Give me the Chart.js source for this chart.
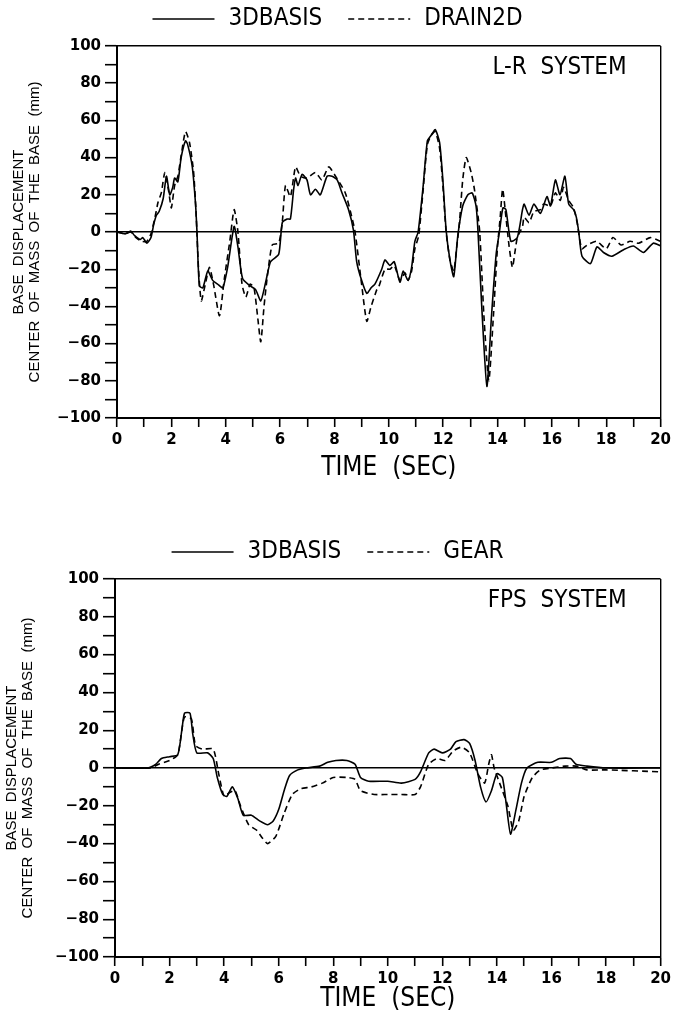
<!DOCTYPE html>
<html>
<head>
<meta charset="utf-8">
<script src="https://cdn.jsdelivr.net/npm/chart.js@4.4.1/dist/chart.umd.min.js"></script>
<style>
  body { margin: 0; background: #fff; }
  .box { position: absolute; left: 0; width: 675px; }
</style>
</head>
<body>
<div class="box" style="top:0;height:510px"><canvas id="lr"></canvas></div>
<div class="box" style="top:510px;height:512px"><canvas id="fps"></canvas></div>
<script>
// L-R system, 3DBASIS vs DRAIN2D
const lrBasisTime = [0,0.3,0.5,0.65,0.85,0.95,1.1,1.25,1.35,1.45,1.55,1.7,1.82,1.94,2.05,2.12,2.24,2.36,2.52,2.6,2.77,2.89,2.94,3.03,3.16,3.34,3.52,3.7,3.89,4.07,4.31,4.45,4.62,4.9,5.1,5.29,5.47,5.65,5.95,6.08,6.26,6.38,6.5,6.57,6.66,6.81,6.99,7.12,7.3,7.48,7.73,7.91,8.1,8.28,8.52,8.7,8.82,9.0,9.19,9.35,9.49,9.74,9.86,10.04,10.2,10.41,10.53,10.71,10.84,10.96,11.08,11.26,11.42,11.56,11.71,11.87,11.99,12.11,12.25,12.39,12.54,12.72,12.91,13.07,13.21,13.28,13.42,13.61,13.78,13.95,14.07,14.2,14.31,14.49,14.73,14.92,14.98,15.16,15.34,15.58,15.82,15.95,16.13,16.3,16.48,16.62,16.8,16.9,16.99,17.11,17.42,17.66,17.9,18.21,18.64,19.0,19.37,19.73,20];
const lrBasis = [0,-1,0.5,-2,-4,-3,-6,-3,4,9,11,18,30,20,24,29,27,40,49,47,35,15,1,-29,-30,-21,-26,-28,-30,-19,3,-8,-25,-29,-31,-37,-27,-16,-12,5,7,7,23,29,25,31,28,20,23,20,30,30,28,21,12,1,-16,-26,-33,-30,-28,-20,-15,-18,-16,-27,-21,-26,-19,-5,0,24,49,52,55,48,28,1,-15,-24,-2,14,20,21,14,1,-40,-83,-45,-12,0,13,12,-5,-3,12,15,9,15,10,19,14,28,20,30,15,12,8,0,-13,-17,-8,-11,-13,-9.5,-7.5,-11,-6,-7.5];

const lrDrainTime = [0,0.3,0.5,0.7,0.9,1.1,1.25,1.4,1.51,1.63,1.76,1.9,2.0,2.12,2.24,2.36,2.52,2.67,2.82,2.91,3.0,3.1,3.25,3.4,3.55,3.77,3.95,4.15,4.31,4.45,4.6,4.74,4.9,5.04,5.17,5.29,5.41,5.53,5.71,5.95,6.08,6.2,6.38,6.57,6.75,6.99,7.3,7.54,7.79,8.04,8.4,8.64,8.76,9.0,9.19,9.35,9.56,9.62,9.86,10.04,10.2,10.41,10.6,10.71,10.84,10.96,11.1,11.26,11.42,11.56,11.71,11.87,11.99,12.11,12.25,12.39,12.5,12.6,12.72,12.85,13.03,13.15,13.34,13.5,13.68,13.85,14.0,14.1,14.19,14.31,14.43,14.55,14.65,14.73,14.92,14.98,15.16,15.34,15.58,15.7,15.95,16.13,16.31,16.43,16.62,16.8,16.93,17.1,17.3,17.65,18.0,18.25,18.55,18.88,19.2,19.62,20];
const lrDrain = [0,-1,0,-3,-5,-5,-1,8,16,21,32,22,13,25,30,41,54,48,32,10,-20,-37,-28,-19,-28,-45,-25,-5,12,0,-28,-35,-28,-30,-45,-59,-40,-24,-7,-6,5,25,19,35,30,29,32,28,35,30,21,8,0,-28,-48,-40,-31,-30,-20,-20,-18,-26,-22,-26,-21,-9,-2,22,47,52,54,45,25,0,-15,-21,-8,5,28,40,32,23,1,-45,-80,-45,-8,8,23,8,-8,-19,-10,-3,3,8,5,11,12,15,14,21,17,24,17,13,5,-9,-7,-5,-9,-3,-7,-5,-6,-3,-5];

// FPS system, 3DBASIS vs GEAR
const fpsBasisTime = [0,1.2,1.5,1.7,2.0,2.3,2.45,2.55,2.75,2.85,3.0,3.4,3.6,3.75,3.95,4.1,4.3,4.5,4.7,5.0,5.3,5.6,5.8,6.0,6.2,6.4,6.7,7.0,7.5,7.8,8.1,8.5,8.8,9.0,9.3,10.0,10.5,11.0,11.2,11.5,11.7,12.0,12.3,12.5,12.8,13.0,13.2,13.4,13.6,13.8,14.0,14.2,14.35,14.5,14.7,14.9,15.1,15.5,16.0,16.3,16.7,16.9,17.3,18,20];
const fpsBasis = [0,0,2,5,6,7,20,29,29,18,8,8,5,-5,-14,-15,-10,-16,-25,-25,-28,-30,-28,-22,-12,-4,-1,0,1,3,4,4,2,-5,-7,-7,-8,-6,-2,8,10,8,10,14,15,13,4,-10,-18,-12,-3,-5,-20,-35,-22,-8,0,3,3,5,5,2,1,0,0];

const fpsGearTime = [0,1.3,1.6,2.0,2.3,2.45,2.55,2.8,2.95,3.2,3.6,3.8,4.0,4.2,4.4,4.6,4.9,5.2,5.4,5.6,5.9,6.2,6.5,6.8,7.2,7.6,8.0,8.5,8.8,9.0,9.5,10.0,10.5,11.0,11.2,11.5,11.8,12.1,12.4,12.7,13.0,13.3,13.55,13.7,13.8,13.9,14.1,14.4,14.6,14.8,15.0,15.3,15.6,16.0,16.5,16.9,17.3,18,20];
const fpsGear = [0,0,2,4,7,20,27,26,12,10,10,-3,-15,-13,-12,-20,-30,-33,-37,-40,-36,-24,-14,-11,-10,-8,-5,-5,-6,-12,-14,-14,-14,-14,-10,2,5,4,9,11,8,-3,-8,2,7,0,-8,-20,-33,-28,-15,-5,-1,0,1,1,-1,-1,-2];

const yTicks = [-100, -80, -60, -40, -20, 0, 20, 40, 60, 80, 100];
const xTicks = [0, 2, 4, 6, 8, 10, 12, 14, 16, 18, 20];

const thinFont = '"Liberation Sans Narrow", "DejaVu Sans Condensed", "Liberation Sans", sans-serif';

function pts(t, v) {
    return t.map((x, i) => ({x: x, y: v[i]}));
}

// draws the line key above the frame and the system name inside it
const keyPlugin = {
    id: 'key',
    afterDraw(chart, args, opts) {
        const ctx = chart.ctx;
        const items = chart.data.datasets;
        const sample = 62, gap = 14, space = 26;
        ctx.save();
        ctx.font = '24px ' + thinFont;
        ctx.fillStyle = '#000';
        ctx.strokeStyle = '#000';
        ctx.lineWidth = 1.5;
        ctx.textBaseline = 'middle';
        let total = 0;
        items.forEach((d, i) => {
            total += sample + gap + ctx.measureText(d.label).width + (i ? space : 0);
        });
        let x = (chart.width - total) / 2;
        items.forEach(d => {
            ctx.setLineDash(d.borderDash || []);
            ctx.beginPath();
            ctx.moveTo(x, opts.y);
            ctx.lineTo(x + sample, opts.y);
            ctx.stroke();
            x += sample + gap;
            ctx.fillText(d.label, x, opts.y);
            x += ctx.measureText(d.label).width + space;
        });
        ctx.textAlign = 'right';
        ctx.textBaseline = 'top';
        ctx.fillText(opts.system, chart.chartArea.right - 34, chart.chartArea.top + 10);
        ctx.restore();
    }
};

function makeChart(id, sets, cfg) {
    new Chart(document.getElementById(id), {
        type: 'line',
        data: {
            datasets: sets.map(s => ({
                label: s.label,
                data: s.data,
                borderColor: '#000',
                borderWidth: 1.6,
                borderDash: s.dash,
                pointRadius: 0,
                tension: 0.2,
                fill: false
            }))
        },
        options: {
            responsive: true,
            maintainAspectRatio: false,
            animation: false,
            layout: {padding: {top: cfg.top, right: cfg.right, bottom: cfg.bottom, left: 0}},
            plugins: {
                legend: {display: false},
                tooltip: {enabled: false},
                key: {y: cfg.keyY, system: cfg.system}
            },
            scales: {
                x: {
                    type: 'linear',
                    min: 0,
                    max: 20,
                    afterFit: s => { s.height = cfg.xHeight; },
                    ticks: {
                        stepSize: 1,
                        autoSkip: false,
                        maxRotation: 0,
                        padding: 4,
                        color: '#000',
                        font: {family: 'DejaVu Sans', weight: 'bold', size: 15},
                        callback: v => xTicks.includes(v) ? String(v) : ''
                    },
                    grid: {
                        color: c => c.tick && c.tick.value === 20 ? '#000' : 'transparent',
                        lineWidth: 1.4,
                        tickColor: '#000',
                        tickLength: 9,
                        tickWidth: 1.6
                    },
                    border: {color: '#000', width: 2},
                    title: {
                        display: true,
                        text: 'TIME  (SEC)',
                        color: '#000',
                        font: {family: thinFont, size: 26, lineHeight: 1.2},
                        padding: {top: 0, bottom: 4}
                    }
                },
                y: {
                    min: -100,
                    max: 100,
                    afterFit: s => { s.width = cfg.left; },
                    ticks: {
                        stepSize: 10,
                        autoSkip: false,
                        padding: 4,
                        color: '#000',
                        font: {family: 'DejaVu Sans', weight: 'bold', size: 15},
                        callback: v => yTicks.includes(v) ? (v < 0 ? '\u2212' + Math.abs(v) : String(v)) : ''
                    },
                    grid: {
                        color: c => c.tick && (c.tick.value === 0 || c.tick.value === 100) ? '#000' : 'transparent',
                        lineWidth: 1.4,
                        tickColor: '#000',
                        tickLength: 12,
                        tickWidth: 1.6
                    },
                    border: {color: '#000', width: 2},
                    title: {
                        display: true,
                        text: ['BASE  DISPLACEMENT', 'CENTER  OF  MASS  OF  THE  BASE  (mm)'],
                        color: '#000',
                        font: {family: 'Liberation Sans', size: 15, lineHeight: 1.05},
                        padding: {top: cfg.titlePad, bottom: 0}
                    }
                }
            }
        },
        plugins: [keyPlugin]
    });
}

makeChart('lr', [
    {label: '3DBASIS', data: pts(lrBasisTime, lrBasis), dash: []},
    {label: 'DRAIN2D', data: pts(lrDrainTime, lrDrain), dash: [6, 4]}
], {top: 46, right: 11, bottom: 22, left: 117, xHeight: 70, keyY: 19, system: 'L-R  SYSTEM', titlePad: 11});

makeChart('fps', [
    {label: '3DBASIS', data: pts(fpsBasisTime, fpsBasis), dash: []},
    {label: 'GEAR', data: pts(fpsGearTime, fpsGear), dash: [6, 4]}
], {top: 69, right: 12, bottom: 3, left: 115, xHeight: 62, keyY: 42, system: 'FPS  SYSTEM', titlePad: 4});
</script>
</body>
</html>
